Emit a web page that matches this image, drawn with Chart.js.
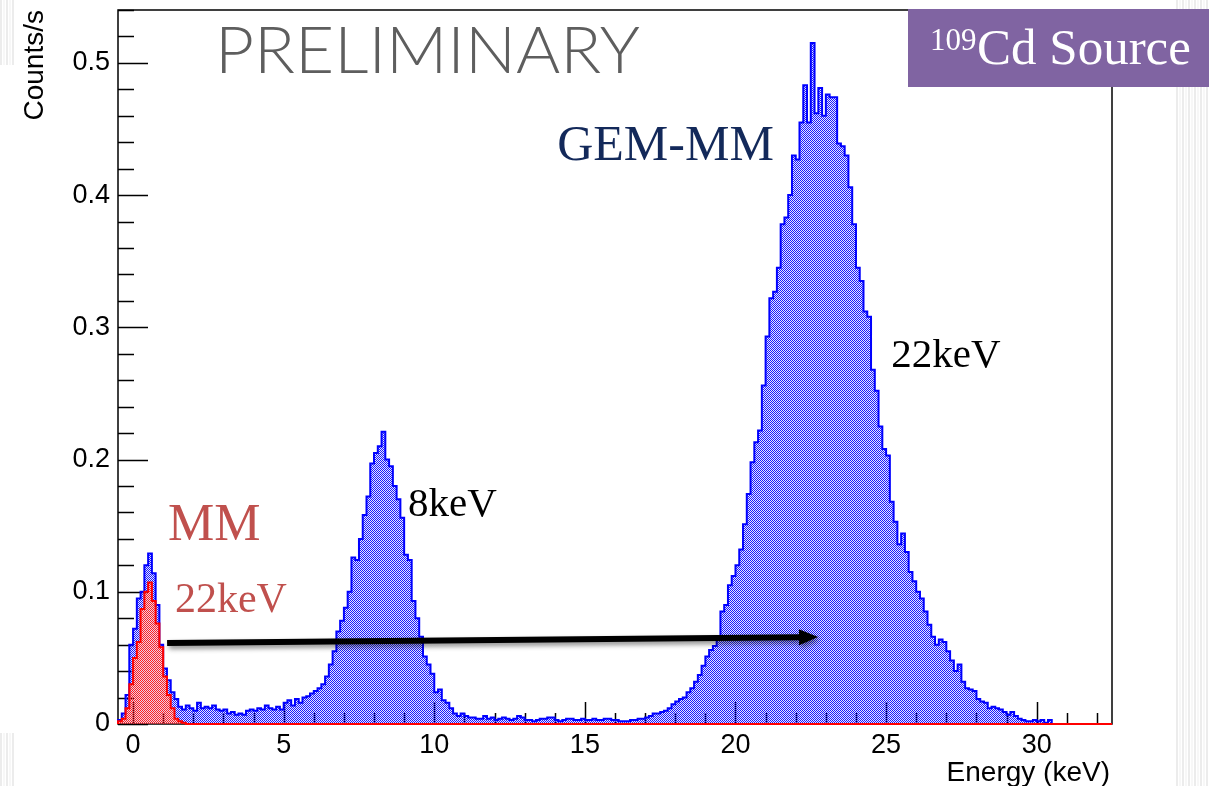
<!DOCTYPE html>
<html>
<head>
<meta charset="utf-8">
<script src="https://cdn.jsdelivr.net/npm/chart.js@4.4.0/dist/chart.umd.min.js"></script>
<style>
  html, body { margin: 0; padding: 0; background: #fff; }
  #wrap { width: 1209px; height: 786px; }
</style>
</head>
<body>
<div id="wrap"><canvas id="spectrum" width="1209" height="786"></canvas></div>
<script>
// 109Cd spectrum, fixed 0.125 keV bins starting at -0.5 keV
const binStart = -0.5;
const binWidth = 0.125;
const xMin = -0.5;
const xMax = 32.5;
const yMax = 0.54;

// GEM-MM counts/s per bin
const gemMM = [
  0.003, 0.008, 0.022, 0.060,
  0.072, 0.095, 0.100, 0.120, 0.129, 0.114, 0.090, 0.060,
  0.042, 0.033, 0.024, 0.019, 0.013, 0.011, 0.014, 0.012,
  0.010, 0.016, 0.012, 0.013, 0.012, 0.014, 0.011, 0.010,
  0.011, 0.008, 0.009, 0.007, 0.008, 0.007, 0.010, 0.011,
  0.010, 0.012, 0.011, 0.014, 0.012, 0.011, 0.013, 0.011,
  0.016, 0.018, 0.014, 0.019, 0.016, 0.020, 0.021, 0.023,
  0.025, 0.027, 0.030, 0.036, 0.045, 0.055, 0.070, 0.078,
  0.088, 0.100, 0.126, 0.124, 0.140, 0.158, 0.172, 0.197,
  0.205, 0.210, 0.221, 0.200, 0.195, 0.180, 0.170, 0.156,
  0.128, 0.124, 0.093, 0.080, 0.066, 0.051, 0.045, 0.038,
  0.024, 0.026, 0.018, 0.016, 0.012, 0.008, 0.006, 0.008,
  0.006, 0.005, 0.005, 0.004, 0.004, 0.006, 0.004, 0.005,
  0.003, 0.004, 0.005, 0.004, 0.003, 0.004, 0.006, 0.005,
  0.003, 0.003, 0.002, 0.003, 0.004, 0.004, 0.005, 0.005,
  0.003, 0.002, 0.003, 0.004, 0.004, 0.003, 0.003, 0.004,
  0.003, 0.003, 0.004, 0.003, 0.003, 0.004, 0.004, 0.003,
  0.003, 0.002, 0.002, 0.002, 0.003, 0.003, 0.004, 0.004,
  0.005, 0.006, 0.008, 0.008, 0.009, 0.010, 0.012, 0.015,
  0.017, 0.019, 0.020, 0.024, 0.027, 0.032, 0.037, 0.044,
  0.051, 0.056, 0.059, 0.064, 0.085, 0.090, 0.105, 0.112,
  0.120, 0.132, 0.151, 0.174, 0.198, 0.213, 0.222, 0.256,
  0.293, 0.322, 0.327, 0.345, 0.378, 0.383, 0.400, 0.430,
  0.427, 0.455, 0.483, 0.455, 0.515, 0.462, 0.481, 0.460,
  0.476, 0.474, 0.474, 0.439, 0.437, 0.430, 0.406, 0.378,
  0.345, 0.335, 0.312, 0.308, 0.268, 0.252, 0.225, 0.208,
  0.203, 0.168, 0.153, 0.136, 0.144, 0.130, 0.115, 0.108,
  0.100, 0.095, 0.085, 0.075, 0.066, 0.060, 0.064, 0.062,
  0.055, 0.048, 0.040, 0.045, 0.032, 0.027, 0.026, 0.025,
  0.019, 0.017, 0.016, 0.012, 0.013, 0.012, 0.011, 0.009,
  0.007, 0.009, 0.006, 0.004, 0.003, 0.002, 0.002, 0.003,
  0.002, 0.003, 0.001, 0.003, 0
];

// MM alone, counts/s per bin
const mmOnly = [
  0.002, 0.004, 0.012, 0.030,
  0.050, 0.062, 0.087, 0.100, 0.107, 0.093, 0.076, 0.058,
  0.036, 0.022, 0.012, 0.004, 0.002, 0.001, 0, 0
];

const xTickValues = [0, 5, 10, 15, 20, 25, 30];
const xTickLabels = ["0", "5", "10", "15", "20", "25", "30"];
const yTickValues = [0, 0.1, 0.2, 0.3, 0.4, 0.5];
const yTickLabels = ["0", "0.1", "0.2", "0.3", "0.4", "0.5"];

// text drawn on the plot, anchored in axis units (left edge, baseline)
const notes = [
  { text: "GEM-MM", x: 14.08, y: 0.4266, font: "50px 'Liberation Serif'", color: "#13295a" },
  { text: "22keV", x: 25.17, y: 0.270, font: "41px 'Liberation Serif'", color: "#000000" },
  { text: "8keV", x: 9.13, y: 0.1573, font: "41px 'Liberation Serif'", color: "#000000" },
  { text: "MM", x: 1.16, y: 0.1392, font: "52px 'Liberation Serif'", color: "#c0504d" },
  { text: "22keV", x: 1.39, y: 0.0847, font: "42px 'Liberation Serif'", color: "#c0504d" }
];
const arrowFrom = { x: 1.13, y: 0.0613 };
const arrowTo = { x: 22.74, y: 0.0658 };

// histogram outline as stepped points: left edge of each bin, closed at the end
function histPoints(counts, closeAt) {
  const pts = [{ x: binStart, y: 0 }];
  counts.forEach((c, i) => pts.push({ x: binStart + i * binWidth, y: c }));
  pts.push({ x: closeAt, y: 0 });
  return pts;
}

const canvas = document.getElementById("spectrum");
const ctx = canvas.getContext("2d");

// ROOT style dotted fill, gaps only lightly tinted
function dotPattern(color, gap) {
  const c = document.createElement("canvas");
  c.width = 2; c.height = 2;
  const g = c.getContext("2d");
  g.fillStyle = gap;
  g.fillRect(1, 0, 1, 1);
  g.fillRect(0, 1, 1, 1);
  g.fillStyle = color;
  g.fillRect(0, 0, 1, 1);
  g.fillRect(1, 1, 1, 1);
  return ctx.createPattern(c, "repeat");
}

const backdrop = {
  id: "backdrop",
  beforeDraw(chart) {
    const c = chart.ctx;
    c.save();
    c.fillStyle = "#ffffff";
    c.fillRect(0, 0, chart.width, chart.height);
    // faint slide stripes around the plot
    const strips = [[0, 0, 15, 65], [0, 733, 15, 53], [1176, 0, 33, 786]];
    strips.forEach(([x, y, w, h]) => {
      for (let i = 0; i < w; i += 3) {
        c.fillStyle = (i / 3) % 2 ? "#f7f7f7" : "#ececec";
        c.fillRect(x + i, y, Math.min(2, w - i), h);
      }
    });
    c.restore();
  }
};

const frame = {
  id: "frame",
  beforeDatasetsDraw(chart) {
    const c = chart.ctx;
    const a = chart.chartArea;
    const xs = chart.scales.x, ys = chart.scales.y;
    c.save();
    c.strokeStyle = "#000";
    c.lineWidth = 1.5;
    c.strokeRect(a.left, a.top, a.right - a.left, a.bottom - a.top);
    c.beginPath();
    for (let k = 0; k <= 32; k++) {
      const px = Math.round(xs.getPixelForValue(k)) + 0.5;
      const len = k % 5 === 0 ? 22 : 11;
      c.moveTo(px, a.bottom);
      c.lineTo(px, a.bottom - len);
    }
    for (let k = 0; k <= 27; k++) {
      const py = Math.round(ys.getPixelForValue(k * 0.02)) + 0.5;
      const len = k % 5 === 0 ? 30 : 16;
      c.moveTo(a.left, py);
      c.lineTo(a.left + len, py);
    }
    c.stroke();
    c.restore();
  }
};

const overlay = {
  id: "overlay",
  afterDraw(chart) {
    const c = chart.ctx;
    const xs = chart.scales.x, ys = chart.scales.y;
    const a = chart.chartArea;
    c.save();

    // PRELIMINARY stamp
    c.fillStyle = "#5e5e5e";
    c.font = "300 66px Lato, 'Open Sans', sans-serif";
    c.textBaseline = "alphabetic";
    const stampW = c.measureText("PRELIMINARY").width;
    c.save();
    c.translate(xs.getPixelForValue(2.72), ys.getPixelForValue(0.4924));
    c.scale(425 / stampW, 1);
    c.fillText("PRELIMINARY", 0, 0);
    c.restore();

    notes.forEach(n => {
      c.font = n.font;
      c.fillStyle = n.color;
      c.textAlign = "left";
      c.fillText(n.text, xs.getPixelForValue(n.x), ys.getPixelForValue(n.y));
    });

    // arrow from the MM peak to the GEM-MM peak
    const x0 = xs.getPixelForValue(arrowFrom.x), y0 = ys.getPixelForValue(arrowFrom.y);
    const x1 = xs.getPixelForValue(arrowTo.x), y1 = ys.getPixelForValue(arrowTo.y);
    const ang = Math.atan2(y1 - y0, x1 - x0);
    const headLen = 19, headHalf = 8;
    const bx = x1 - headLen * Math.cos(ang), by = y1 - headLen * Math.sin(ang);
    c.save();
    c.shadowColor = "rgba(0,0,0,0.45)";
    c.shadowBlur = 5;
    c.shadowOffsetX = 2;
    c.shadowOffsetY = 3;
    c.strokeStyle = "#000";
    c.fillStyle = "#000";
    c.lineWidth = 6;
    c.beginPath();
    c.moveTo(x0, y0);
    c.lineTo(bx, by);
    c.stroke();
    c.beginPath();
    c.moveTo(x1, y1);
    c.lineTo(bx + headHalf * Math.sin(ang), by - headHalf * Math.cos(ang));
    c.lineTo(bx - headHalf * Math.sin(ang), by + headHalf * Math.cos(ang));
    c.closePath();
    c.fill();
    c.restore();

    // axis titles
    c.fillStyle = "#000";
    c.font = "28px 'Liberation Sans', Arial, sans-serif";
    c.textAlign = "right";
    c.fillText("Energy (keV)", a.right - 2, 781);
    c.save();
    c.translate(43, a.top);
    c.rotate(-Math.PI / 2);
    c.textAlign = "right";
    c.fillText("Counts/s", 0, 0);
    c.restore();

    // source tag
    c.fillStyle = "#8064a2";
    c.fillRect(908, 9, 301, 78);
    c.fillStyle = "#ffffff";
    c.textAlign = "left";
    c.font = "31px 'Liberation Serif', serif";
    c.fillText("109", 930, 50);
    c.font = "51px 'Liberation Serif', serif";
    c.fillText("Cd Source", 977, 64);

    c.restore();
  }
};

const tickFont = { family: "'Liberation Sans', Arial, sans-serif", size: 27 };

new Chart(ctx, {
  type: "line",
  data: {
    datasets: [
      {
        label: "GEM-MM",
        data: histPoints(gemMM, binStart + gemMM.length * binWidth),
        stepped: true,
        borderColor: "#0000ff",
        borderWidth: 2,
        backgroundColor: dotPattern("#1a1aff", "rgba(60,60,255,0.12)"),
        fill: "origin",
        pointRadius: 0,
        clip: false,
        order: 2
      },
      {
        label: "MM",
        data: histPoints(mmOnly, xMax),
        stepped: true,
        borderColor: "#ff0000",
        borderWidth: 2,
        backgroundColor: dotPattern("#ff2020", "rgba(255,120,120,0.2)"),
        fill: "origin",
        pointRadius: 0,
        clip: false,
        order: 1
      }
    ]
  },
  options: {
    responsive: false,
    animation: false,
    devicePixelRatio: 1,
    layout: { padding: { top: 10, right: 97, bottom: 0, left: 0 } },
    plugins: { legend: { display: false }, tooltip: { enabled: false } },
    scales: {
      x: {
        type: "linear",
        min: xMin,
        max: xMax,
        grid: { display: false },
        border: { display: false },
        afterBuildTicks: s => { s.ticks = xTickValues.map(v => ({ value: v })); },
        afterFit: s => { s.height = 62; s.paddingLeft = 0; s.paddingRight = 0; },
        ticks: {
          color: "#000",
          font: tickFont,
          padding: -3,
          maxRotation: 0,
          autoSkip: false,
          callback: (v, i) => xTickLabels[i]
        }
      },
      y: {
        type: "linear",
        min: 0,
        max: yMax,
        grid: { display: false },
        border: { display: false },
        afterBuildTicks: s => { s.ticks = yTickValues.map(v => ({ value: v })); },
        afterFit: s => { s.width = 118; s.paddingTop = 0; s.paddingBottom = 0; },
        ticks: {
          color: "#000",
          font: tickFont,
          padding: 0,
          autoSkip: false,
          callback: (v, i) => yTickLabels[i]
        }
      }
    }
  },
  plugins: [backdrop, frame, overlay]
});
</script>
</body>
</html>
